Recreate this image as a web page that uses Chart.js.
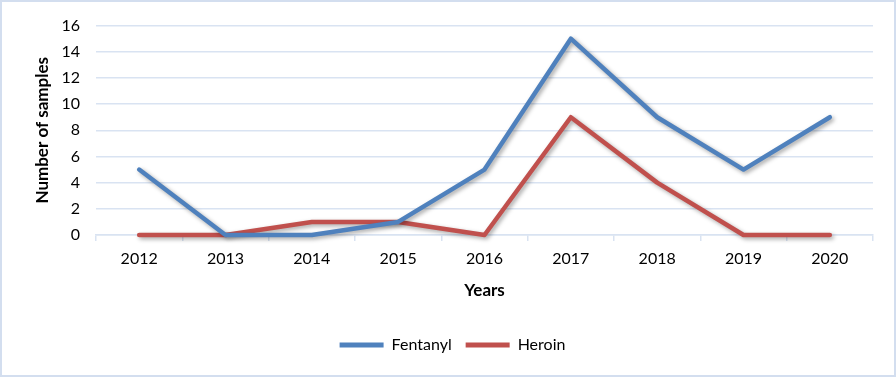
<!DOCTYPE html>
<html>
<head>
<meta charset="utf-8">
<script src="https://cdn.jsdelivr.net/npm/chart.js@4"></script>
<style>
  html, body { margin: 0; padding: 0; background: #fff; }
  #wrap { width: 896px; height: 377px; position: relative; }
</style>
</head>
<body>
<div id="wrap"><canvas id="samplesChart" width="896" height="377"></canvas></div>
<script>
const years = ['2012', '2013', '2014', '2015', '2016', '2017', '2018', '2019', '2020'];
const fentanyl = [5, 0, 0, 1, 5, 15, 9, 5, 9];
const heroin = [0, 0, 1, 1, 0, 9, 4, 0, 0];
const yTicks = [0, 2, 4, 6, 8, 10, 12, 14, 16];

const gridColor = '#d9e3f2';
const font = { family: 'Lato, "Liberation Sans", sans-serif', size: 16 };
const boldFont = { ...font, size: 17, weight: 'bold' };

// soft drop shadow under the lines, like the office chart
const shadow = {
    id: 'shadow',
    beforeDatasetDraw(chart) {
        const c = chart.ctx;
        c.save();
        c.shadowColor = 'rgba(0,0,0,0.35)';
        c.shadowBlur = 4;
        c.shadowOffsetX = 2;
        c.shadowOffsetY = 2;
    },
    afterDatasetDraw(chart) {
        chart.ctx.restore();
    }
};

const frame = {
    id: 'frame',
    afterDraw(chart) {
        const c = chart.ctx;
        c.save();
        c.strokeStyle = '#d3deef';
        c.lineWidth = 2;
        c.strokeRect(1, 1, chart.width - 2, chart.height - 2);
        c.restore();
    }
};

const ctx = document.getElementById('samplesChart').getContext('2d');
const chart = new Chart(ctx, {
    type: 'line',
    data: {
        labels: years,
        datasets: [
            { label: 'Fentanyl', data: fentanyl, borderColor: '#4f81bd', backgroundColor: '#4f81bd' },
            { label: 'Heroin', data: heroin, borderColor: '#c0504d', backgroundColor: '#c0504d' }
        ]
    },
    options: {
        responsive: false,
        animation: false,
        layout: { padding: { top: 24, right: 23, left: 32, bottom: 14 } },
        elements: {
            line: { borderWidth: 4.5, tension: 0, borderCapStyle: 'round', borderJoinStyle: 'round' },
            point: { radius: 0, hoverRadius: 0 }
        },
        datasets: { line: { clip: false } },
        plugins: {
            tooltip: { enabled: false },
            legend: {
                position: 'bottom',
                labels: {
                    color: '#000',
                    font: font,
                    boxWidth: 44,
                    boxHeight: 5,
                    padding: 14,
                    generateLabels(ch) {
                        return Chart.defaults.plugins.legend.labels.generateLabels(ch).map(l => ({ ...l, lineWidth: 0 }));
                    }
                }
            }
        },
        scales: {
            x: {
                offset: true,
                grid: { display: true, drawOnChartArea: false, offset: true, color: gridColor, tickLength: 6, lineWidth: 1.5 },
                border: { display: true, color: gridColor, width: 1.5 },
                ticks: { color: '#000', font: font, padding: 8, maxRotation: 0 },
                title: { display: true, text: 'Years', color: '#000', font: boldFont, padding: { top: 6, bottom: 22 } },
                afterFit(scale) { scale.height = 88; }
            },
            y: {
                min: 0,
                max: 16,
                afterBuildTicks(scale) { scale.ticks = yTicks.map(v => ({ value: v })); },
                grid: { color: gridColor, lineWidth: 1.5, drawTicks: false },
                border: { display: false },
                ticks: { color: '#000', font: font, padding: 16 },
                title: { display: true, text: 'Number of samples', color: '#000', font: boldFont, padding: { top: 0, bottom: 4 } },
                afterFit(scale) { scale.width = 64; }
            }
        }
    },
    plugins: [shadow, frame]
});
</script>
</body>
</html>
